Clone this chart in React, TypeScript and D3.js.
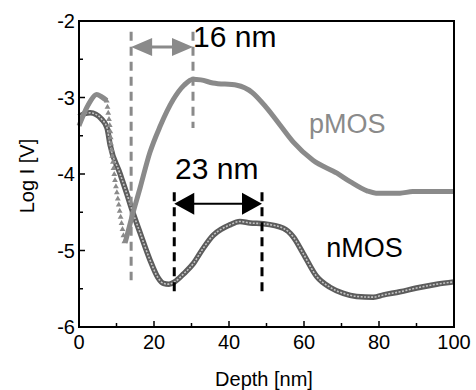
import React from "react";
import * as d3 from "d3";

// depth [nm] / log I readings
const pmosDepth = [0, 1, 2, 3, 4.7, 6, 7.4];
const pmosLog = [-3.37, -3.25, -3.14, -3.05, -2.96, -2.99, -3.04];

const pmosDropDepth = [7.4, 7.6, 7.8, 8.0, 8.2, 8.35, 8.45, 8.55, 8.7, 8.85, 9.05, 9.2, 9.4, 9.6, 9.85, 10.1, 10.35, 10.6, 10.85, 11.1, 11.35, 11.6, 11.85, 12.1];
const pmosDropLog = [-3.04, -3.12, -3.2, -3.28, -3.36, -3.44, -3.52, -3.6, -3.68, -3.76, -3.84, -3.92, -4.0, -4.08, -4.16, -4.24, -4.32, -4.4, -4.48, -4.56, -4.64, -4.72, -4.8, -4.88];

const pmosRiseDepth = [12.3, 14.0, 16.3, 18.9, 21.6, 25.1, 28.0, 30.4, 32.5, 35.7, 42.1, 46.1, 50.1, 53.6, 57.1, 62.4, 68.8, 72.3, 76.8, 79.2, 85.6, 89, 100];
const pmosRiseLog = [-4.9, -4.58, -4.18, -3.72, -3.38, -3.03, -2.84, -2.76, -2.77, -2.81, -2.84, -2.93, -3.14, -3.36, -3.58, -3.82, -3.99, -4.1, -4.22, -4.25, -4.25, -4.23, -4.23];

const nmosDepth = [0, 1.5, 3, 4.5, 6, 7.5, 8.3, 10.9, 12.7, 14.0, 16.3, 18.9, 21, 22.5, 24, 25.5, 28, 30.5, 33, 35.8, 38, 40, 42.9, 45.6, 49.1, 54.5, 57.1, 59.8, 63.4, 66.9, 70.5, 74, 78.5, 81.2, 85.6, 90, 95.4, 100];
const nmosLog = [-3.25, -3.21, -3.2, -3.22, -3.28, -3.4, -3.62, -3.99, -4.25, -4.45, -4.77, -5.12, -5.35, -5.43, -5.44, -5.41, -5.3, -5.17, -4.98, -4.8, -4.72, -4.67, -4.62, -4.64, -4.65, -4.71, -4.82, -5.04, -5.34, -5.48, -5.56, -5.6, -5.61, -5.58, -5.54, -5.49, -5.44, -5.41];

const xMajor = [0, 20, 40, 60, 80, 100];
const xMinor = [10, 30, 50, 70, 90];
const yMajor = [-6, -5, -4, -3, -2];
const yMinor = [-5.5, -4.5, -3.5, -2.5];

// annotation positions in data units
const grayMarks = [13.9, 30.4];
const grayTops = [-2.14, -2.14];
const grayBottoms = [-5.39, -3.4];
const grayArrowLog = -2.34;
const blackMarks = [25.4, 48.8];
const blackTop = -4.24;
const blackBottom = -5.56;
const blackArrowLog = -4.39;

const FONT = "Arial, 'Liberation Sans', sans-serif";

export default function App() {
  const W = 476, H = 390;
  const x = d3.scaleLinear().domain([0, 100]).range([79, 454]);
  const y = d3.scaleLinear().domain([-6, -2]).range([327, 21]);

  const line = d3.line<[number, number]>()
    .x(d => x(d[0]))
    .y(d => y(d[1]))
    .curve(d3.curveMonotoneX);

  const zip = (a: number[], b: number[]) => a.map((v, i) => [v, b[i]] as [number, number]);
  const pLeft = line(zip(pmosDepth, pmosLog)) || "";
  const pRise = line(zip(pmosRiseDepth, pmosRiseLog)) || "";
  const nPath = line(zip(nmosDepth, nmosLog)) || "";
  const drops = zip(pmosDropDepth, pmosDropLog);

  const arrow = (x1: number, x2: number, yy: number, len: number, half: number) =>
    `M${x1},${yy}L${x1 + len},${yy - half}L${x1 + len},${yy + half}Z` +
    `M${x2},${yy}L${x2 - len},${yy - half}L${x2 - len},${yy + half}Z`;

  const gray = "#8a8a8a";

  return (
    <svg width={W} height={H} style={{ position: "absolute", left: 0, top: 0, background: "#fff" }} fontFamily={FONT}>
      {/* nMOS */}
      <path d={nPath} fill="none" stroke="#5c5c5c" strokeWidth={5.5} />
      <path d={nPath} fill="none" stroke="#c4c4c4" strokeWidth={1.6} strokeDasharray="2 1.5" />
      {/* pMOS */}
      <path d={pLeft} fill="none" stroke={gray} strokeWidth={5} strokeLinejoin="round" />
      <path d={pRise} fill="none" stroke={gray} strokeWidth={5} strokeLinejoin="round" />
      {drops.map((d, i) => (
        <path key={i} d={`M${x(d[0])},${y(d[1]) - 3}l2.9,5h-5.8Z`} fill={gray} />
      ))}

      {/* gray annotations */}
      {grayMarks.map((m, i) => (
        <line key={"g" + i} x1={x(m)} x2={x(m)} y1={y(grayTops[i])} y2={y(grayBottoms[i])}
          stroke={gray} strokeWidth={3} strokeDasharray="9 6" />
      ))}
      <line x1={x(grayMarks[0]) + 10} x2={x(grayMarks[1]) - 10} y1={y(grayArrowLog)} y2={y(grayArrowLog)} stroke={gray} strokeWidth={3} />
      <path d={arrow(x(grayMarks[0]), x(grayMarks[1]), y(grayArrowLog), 21, 9)} fill={gray} />

      {/* black annotations */}
      {blackMarks.map((m, i) => (
        <line key={"b" + i} x1={x(m)} x2={x(m)} y1={y(blackTop)} y2={y(blackBottom)}
          stroke="#000" strokeWidth={3} strokeDasharray="9 6" />
      ))}
      <line x1={x(blackMarks[0]) + 10} x2={x(blackMarks[1]) - 10} y1={y(blackArrowLog)} y2={y(blackArrowLog)} stroke="#000" strokeWidth={2} />
      <path d={arrow(x(blackMarks[0]), x(blackMarks[1]), y(blackArrowLog), 20, 11)} fill="#000" />

      <text x={x(30.4)} y={y(-2.34)} fontSize={30}>16 nm</text>
      <text x={x(25.6)} y={y(-4.07)} fontSize={30}>23 nm</text>
      <text x={x(61.3)} y={y(-3.46)} fontSize={27} fill={gray}>pMOS</text>
      <text x={x(65.9)} y={y(-5.08)} fontSize={27} fill="#000">nMOS</text>

      {/* frame */}
      <rect x={79} y={21} width={375} height={306} fill="none" stroke="#000" strokeWidth={2} />
      {xMajor.map(t => <line key={"xM" + t} x1={x(t)} x2={x(t)} y1={327} y2={321} stroke="#000" strokeWidth={1.5} />)}
      {xMinor.map(t => <line key={"xm" + t} x1={x(t)} x2={x(t)} y1={327} y2={323} stroke="#000" strokeWidth={1.5} />)}
      {yMajor.map(t => <line key={"yM" + t} x1={79} x2={85} y1={y(t)} y2={y(t)} stroke="#000" strokeWidth={1.5} />)}
      {yMinor.map(t => <line key={"ym" + t} x1={79} x2={83} y1={y(t)} y2={y(t)} stroke="#000" strokeWidth={1.5} />)}
      {xMajor.map(t => (
        <text key={"xl" + t} x={x(t)} y={349} fontSize={20} textAnchor="middle">{t}</text>
      ))}
      {yMajor.map(t => (
        <text key={"yl" + t} x={75} y={y(t)} dy="0.35em" fontSize={20} textAnchor="end">{t}</text>
      ))}
      <text x={264} y={386} fontSize={20} textAnchor="middle">Depth [nm]</text>
      <text transform="translate(34,176) rotate(-90)" fontSize={20} textAnchor="middle">Log I [V]</text>
    </svg>
  );
}
